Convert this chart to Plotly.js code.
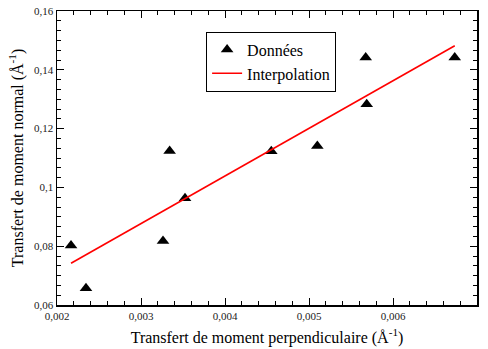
<!DOCTYPE html>
<html>
<head>
<meta charset="utf-8">
<script src="https://cdn.plot.ly/plotly-3.0.1.min.js"></script>
<style>html,body{margin:0;padding:0;background:#fff;}#chart{width:488px;height:349px;}</style>
</head>
<body>
<div id="chart"></div>
<script>
// Data
var dataX = [0.002167, 0.002345, 0.003262, 0.003524, 0.003341, 0.004551, 0.005099, 0.005675, 0.005687, 0.006735];
var dataY = [0.0802, 0.0657, 0.0818, 0.0963, 0.1124, 0.1123, 0.1141, 0.1442, 0.1283, 0.1442];
var fitX = [0.002167, 0.006735];
var fitY = [0.0742, 0.1482];
var xTickVals = [0.002, 0.003, 0.004, 0.005, 0.006, 0.007];
var xTickText = ['0,002', '0,003', '0,004', '0,005', '0,006', '0,007'];
var yTickVals = [0.06, 0.08, 0.10, 0.12, 0.14, 0.16];
var yTickText = ['0,06', '0,08', '0,1', '0,12', '0,14', '0,16'];

var serif = 'Liberation Serif';

var traces = [
  {x: dataX, y: dataY, mode: 'markers', type: 'scatter', name: 'Données',
   marker: {symbol: 'triangle-up', size: 11, color: '#000'}},
  {x: fitX, y: fitY, mode: 'lines', type: 'scatter', name: 'Interpolation',
   line: {color: '#ff0000', width: 1.6}}
];

var axisCommon = {
  showline: true, linecolor: '#000', linewidth: 1.5, mirror: 'allticks',
  ticks: 'inside', ticklen: 7, tickwidth: 1, tickcolor: '#000',
  showgrid: false, zeroline: false,
  tickfont: {family: serif, size: 11, color: '#222'}
};

var layout = {
  width: 488, height: 349,
  font: {family: serif, color: '#000'},
  margin: {l: 57, r: 11, t: 11, b: 44},
  paper_bgcolor: '#fff', plot_bgcolor: '#fff',
  showlegend: true,
  legend: {x: 0.355, y: 0.93, xanchor: 'left', yanchor: 'top',
    bordercolor: '#000', borderwidth: 1, bgcolor: '#fff',
    font: {family: serif, size: 16, color: '#000'},
    tracegroupgap: 0, itemwidth: 30},
  xaxis: Object.assign({}, axisCommon, {
    range: [0.002, 0.007], tickmode: 'array', tickvals: xTickVals, ticktext: xTickText,
    minor: {dtick: 0.0002, ticks: 'inside', ticklen: 4, tickcolor: '#000', tickwidth: 1},
    title: {text: 'Transfert de moment perpendiculaire (Å<sup>-1</sup>)', standoff: 11,
      font: {family: serif, size: 16, color: '#000'}}
  }),
  yaxis: Object.assign({}, axisCommon, {
    range: [0.06, 0.16], tickmode: 'array', tickvals: yTickVals, ticktext: yTickText,
    minor: {dtick: 0.02/6, ticks: 'inside', ticklen: 4, tickcolor: '#000', tickwidth: 1},
    title: {text: 'Transfert de moment normal (Å<sup>-1</sup>)', standoff: 6,
      font: {family: serif, size: 16, color: '#000'}}
  })
};

Plotly.newPlot('chart', traces, layout, {displayModeBar: false, staticPlot: true});
</script>
</body>
</html>
